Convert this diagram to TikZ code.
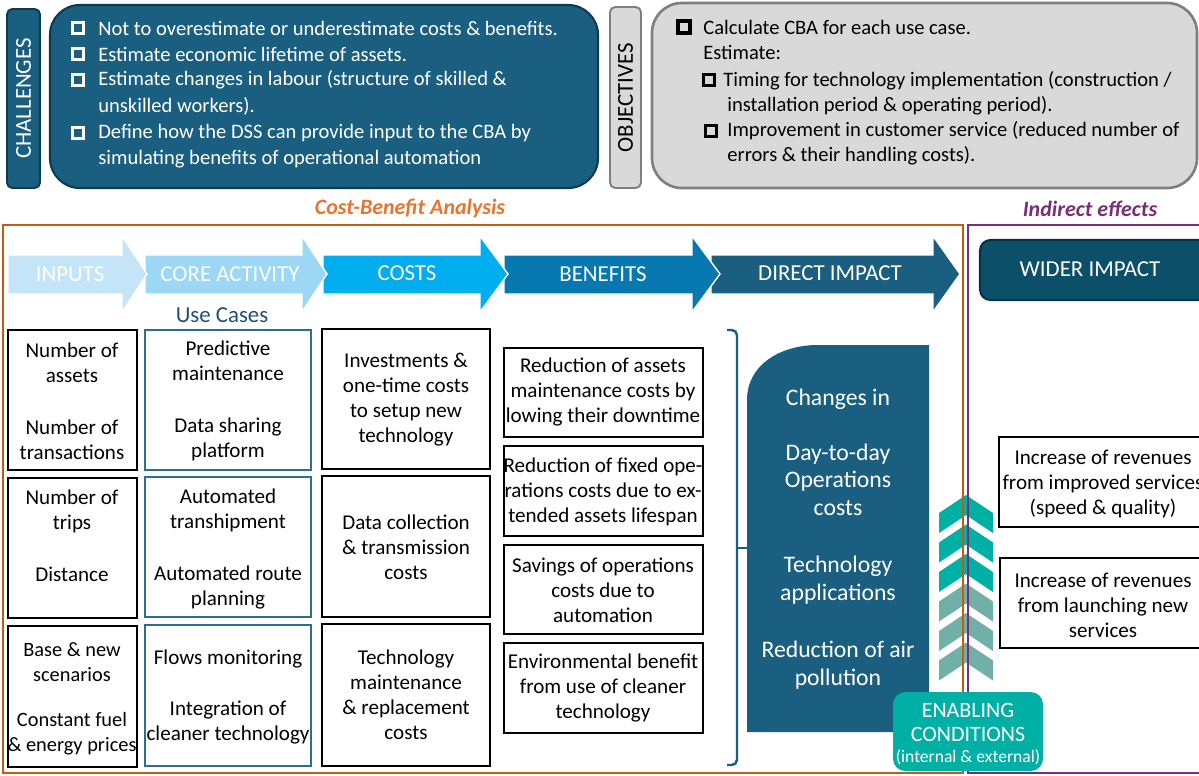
\documentclass[tikz,border=0pt]{standalone}
\usepackage{fontspec}
\setmainfont{Carlito}
\usetikzlibrary{fit,calc}
\definecolor{deep}{HTML}{1A5F80}
\definecolor{deepline}{HTML}{0E3A4E}
\definecolor{greyfill}{HTML}{D9D9D9}
\definecolor{greyline}{HTML}{7F7F7F}
\definecolor{stage1}{HTML}{C4E5F8}
\definecolor{stage2}{HTML}{9CD7F5}
\definecolor{stage3}{HTML}{00AEEF}
\definecolor{stage4}{HTML}{0878B1}
\definecolor{stage5}{HTML}{1A5F80}
\definecolor{caseline}{HTML}{2E6F8E}
\definecolor{cbaline}{HTML}{C55A11}
\definecolor{cbatext}{HTML}{E8742F}
\definecolor{indline}{HTML}{7A2E78}
\definecolor{widefill}{HTML}{0C4F69}
\definecolor{wideline}{HTML}{073246}
\definecolor{tealc}{HTML}{00B0A5}
\definecolor{sagec}{HTML}{70B0A7}
\definecolor{usecase}{HTML}{1F4E79}
\tikzset{tag/.style={rounded corners=3pt,line width=1.1pt,inner sep=0pt}, panel/.style={rounded corners=17pt,line width=1.2pt,inner sep=0pt},
 sq/.style={draw,line width=1.8pt,minimum size=0.22cm,inner sep=0pt}, item/.style={anchor=west,inner sep=0pt,font=\fontsize{11.7}{14.2}\selectfont},
 stagelbl/.style={white,font=\fontsize{13}{15}\selectfont,inner sep=0pt}, ibox/.style={draw=black,line width=0.9pt,inner sep=0pt},
 cbox/.style={draw=caseline,line width=1.1pt,inner sep=0pt}, txt/.style={align=center,inner sep=0pt,font=\fontsize{12}{14.2}\selectfont},
 flag/.style={font=\fontsize{12.5}{15}\bfseries\itshape\selectfont,inner sep=0pt}}
\begin{document}
\begin{tikzpicture}[x=0.02cm,y=-0.02cm]
\useasboundingbox (0,0) rectangle (1199,775);\clip (0,0) rectangle (1199,775);
% challenges
\node[tag,draw=deepline,fill=deep,fit={(7,9)(40,188)}] (chtag) {};
\node[rotate=90,white,font=\fontsize{13}{15}\selectfont] (chtxt) at (chtag) {CHALLENGES};
\node[panel,draw=deepline,fill=deep,fit={(50,5)(598,188)}] (chbox) {};
\foreach \y in {28,54,80,133} \node[sq,draw=white] at (78,\y) {};
\node[item,white] (ch1) at (98,28) {Not to overestimate or underestimate costs \& benefits.};
\node[item,white] (ch2) at (98,54) {Estimate economic lifetime of assets.};
\node[item,white] (ch3) at (98,80) {Estimate changes in labour (structure of skilled \&};
\node[item,white] (ch3b) at (98,106) {unskilled workers).};
\node[item,white] (ch4) at (98,133) {Define how the DSS can provide input to the CBA by};
\node[item,white] (ch4b) at (98,159) {simulating benefits of operational automation};
% objectives
\node[tag,draw=greyline,fill=greyfill,fit={(610,7)(641,188)}] (objtag) {};
\node[rotate=90,font=\fontsize{13}{15}\selectfont] (objtxt) at (objtag) {OBJECTIVES};
\node[panel,draw=greyline,fill=greyfill,line width=1.5pt,fit={(652,3)(1197,188)}] (objbox) {};
\node[sq,draw=black,minimum size=0.24cm] at (684,27) {};\node[sq,draw=black] at (709,80) {};\node[sq,draw=black] at (711,131) {};
\node[item] (ob1) at (703,27) {Calculate CBA for each use case.};
\node[item] (ob2) at (703,52) {Estimate:};
\node[item] (ob3) at (723,81) {Timing for technology implementation (construction /};
\node[item] (ob3b) at (727,106) {installation period \& operating period).};
\node[item] (ob4) at (727,131) {Improvement in customer service (reduced number of};
\node[item] (ob4b) at (727,156) {errors \& their handling costs).};
% stage arrows, drawn right to left so each tip lies on the next body
\foreach \a/\h/\t/\c in {711/933/960/stage5,504/692/720/stage4,323/480/508/stage3,145/302/327/stage2,8/122/147/stage1}
 \filldraw[fill=\c,draw=white,line width=0.8pt] (\a,255) -- (\h,255) -- (\h,236) -- (\t,274) -- (\h,312) -- (\h,294) -- (\a,294) -- cycle;
\node[stagelbl] (inputs) at (70,274) {INPUTS};\node[stagelbl] (core) at (230,274) {CORE ACTIVITY};
\node[stagelbl] (costs) at (407,273) {COSTS};\node[stagelbl] (benefits) at (603,274) {BENEFITS};\node[stagelbl] (direct) at (830,273) {DIRECT IMPACT};
\node[text=usecase,font=\fontsize{13}{15}\selectfont,inner sep=0pt] (uc) at (222,315) {Use Cases};
% inputs / use cases / costs / benefits
\node[ibox,fit={(8,330)(137,470)}] (in1) {};\node[ibox,fit={(8,478)(137,618)}] (in2) {};\node[ibox,fit={(8,626)(137,767)}] (in3) {};
\node[cbox,fit={(145,330)(311,470)}] (uc1) {};\node[cbox,fit={(145,477)(311,617)}] (uc2) {};\node[cbox,fit={(145,625)(311,766)}] (uc3) {};
\node[ibox,fit={(322,329)(490,469)}] (co1) {};\node[ibox,fit={(322,476)(490,617)}] (co2) {};\node[ibox,fit={(322,624)(490,766)}] (co3) {};
\node[ibox,fit={(504,348)(703,437)}] (be1) {};\node[ibox,fit={(504,446)(703,536)}] (be2) {};\node[ibox,fit={(504,545)(703,634)}] (be3) {};\node[ibox,fit={(504,643)(703,733)}] (be4) {};
\node[txt] (in1t) at (72,401) {Number of\\assets\\[0.54cm]Number of\\transactions};
\node[txt] (in2t) at (72,536) {Number of\\trips\\[0.54cm]Distance};
\node[txt,font=\fontsize{11.6}{14.2}\selectfont] (in3t) at (72,699) {Base \& new\\scenarios\\[0.4cm]Constant fuel\\\& energy prices};
\node[txt] (uc1t) at (228,401) {Predictive\\maintenance\\[0.54cm]Data sharing\\platform};
\node[txt] (uc2t) at (228,549) {Automated\\transhipment\\[0.54cm]Automated route\\planning};
\node[txt] (uc3t) at (228,697) {Flows monitoring\\[0.52cm]Integration of\\cleaner technology};
\node[txt] (co1t) at (406,400) {Investments \&\\one-time costs\\to setup new\\technology};
\node[txt] (co2t) at (406,547) {Data collection\\\& transmission\\costs};
\node[txt] (co3t) at (406,695) {Technology\\maintenance\\\& replacement\\costs};
\node[txt] (be1t) at (603,392) {Reduction of assets\\maintenance costs by\\lowing their downtime};
\node[txt] (be2t) at (603,492) {Reduction of fixed ope-\\rations costs due to ex-\\tended assets lifespan};
\node[txt] (be3t) at (603,590) {Savings of operations\\costs due to\\automation};
\node[txt] (be4t) at (603,688) {Environmental benefit\\from use of cleaner\\technology};
% bracket and direct impact
\draw[deep,line width=1.4pt,rounded corners=3pt] (727,330) -- (737,330) -- (737,765) -- (727,765);
\draw[deep,line width=1.4pt] (737,548) -- (747,548);
\fill[deep] (747,732) -- (747,400) .. controls (747,365) and (780,345) .. (818,345) -- (929,345) -- (929,732) -- cycle;
\node[txt,white,font=\fontsize{13.5}{15.9}\selectfont] (impact) at (838,539) {Changes in\\[0.54cm]Day-to-day\\Operations\\costs\\[0.58cm]Technology\\applications\\[0.58cm]Reduction of air\\pollution};
% chevrons
\foreach \i/\c in {0/tealc,1/tealc,2/tealc,3/sagec,4/sagec,5/sagec}{
 \pgfmathsetmacro\a{495+29.5*\i}
 \fill[\c] (966,\a) -- (993,\a+18) -- (993,\a+38) -- (966,\a+20) -- (939,\a+38) -- (939,\a+18) -- cycle;}
% frames
\draw[cbaline,line width=1.3pt] (3,225) rectangle (963,773);
\draw[indline,line width=1.3pt] (968,225) rectangle (1215,773);
\node[flag,text=cbatext] (cba) at (410,209) {Cost-Benefit Analysis};
\node[flag,text=indline] (ind) at (1090,209) {Indirect effects};
% indirect side
\node[draw=wideline,fill=widefill,line width=1.2pt,rounded corners=6pt,inner sep=0pt,fit={(980,240)(1215,300)}] (wide) {};
\node[stagelbl] (widet) at (1090,269) {WIDER IMPACT};
\node[ibox,fit={(999,437)(1215,527)}] (rev1) {};\node[ibox,fit={(1000,558)(1215,648)}] (rev2) {};
\node[txt] (rev1t) at (1103,484) {Increase of revenues\\from improved services\\(speed \& quality)};
\node[txt] (rev2t) at (1103,605) {Increase of revenues\\from launching new\\services};
\node[fill=tealc,rounded corners=7pt,inner sep=0pt,fit={(893,692)(1043,771)}] (enable) {};
\node[txt,white,font=\fontsize{12.5}{13.6}\selectfont] (enablet) at (968,722) {ENABLING\\CONDITIONS};
\node[white,font=\fontsize{10}{12}\selectfont,inner sep=0pt] (enables) at (968,757) {(internal \& external)};
\end{tikzpicture}
\end{document}
